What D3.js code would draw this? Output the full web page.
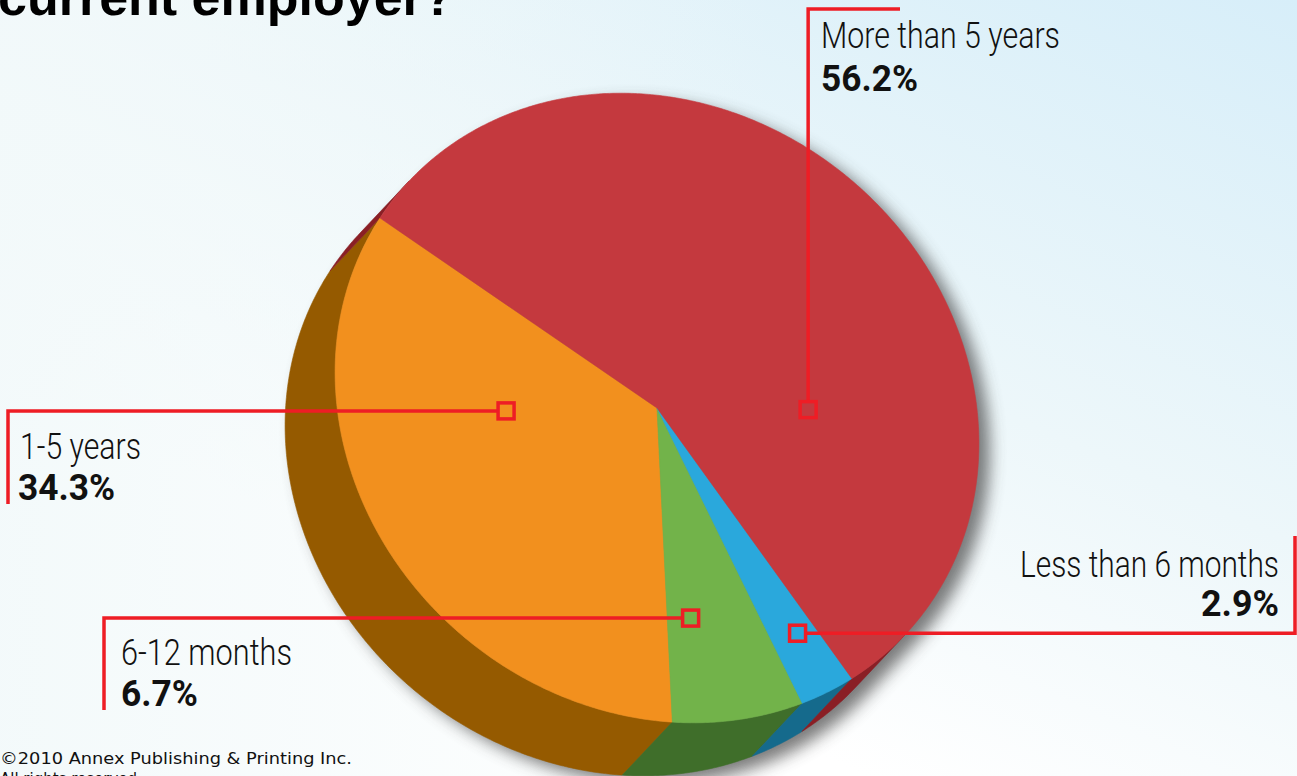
<!DOCTYPE html>
<html><head><meta charset="utf-8">
<script src="https://cdn.jsdelivr.net/npm/d3@7/dist/d3.min.js"></script>
<style>html,body{margin:0;padding:0;overflow:hidden;background:#fff}</style>
</head><body>
<svg id="chart" width="1297" height="776"></svg>
<script>
// ---------- data ----------
const categories = ["1-5 years", "6-12 months", "Less than 6 months", "More than 5 years"];
const values = [34.3, 6.7, 2.9, 56.2];
const valueLabels = ["34.3%", "6.7%", "2.9%", "56.2%"];
const titleText = "current employer?";
const copyrightLines = ["\u00A92010 Annex Publishing & Printing Inc.", "All rights reserved."];

// ---------- styles / layout ----------
const topColors = ["#F2901E", "#72B34A", "#2AA8DC", "#C4393E"];
const sideColors = ["#955A00", "#3F6E2A", "#156A8C", "#8A1F25"];
const lineColor = "#EE1D25";
// marker position inside each slice: fraction of slice angle, radius fraction
const markerPos = [[0.31, 0.473], [0.26, 0.668], [0.60, 0.80], [0.29, 0.472]];
// leader routing
const leaders = [
  {dir: "h", elbow: 8, end: 504},
  {dir: "h", elbow: 104, end: 710},
  {dir: "h", elbow: 1295, end: 536},
  {dir: "v", elbow: 9, end: 900}
];
const labelPos = [
  {x: 20, y: 459, anchor: "start", w: 121, vx: 18, vy: 500, vw: 97},
  {x: 121, y: 665, anchor: "start", w: 171, vx: 121, vy: 706, vw: 77},
  {x: 1279, y: 577, anchor: "end", w: 259, vx: 1279, vy: 616, vw: 78},
  {x: 821, y: 48, anchor: "start", w: 239, vx: 821, vy: 91, vw: 97}
];

// ---------- projection of the tilted disc ----------
const C = [657, 408];        // centre of top face
const A = [-277, -190];      // image of unit x axis
const B = [-164, 251];       // image of unit y axis
const D = [-50, 53];         // extrusion (thickness) direction
function proj(t, r = 1, off = [0, 0]) {
  return [C[0] + r * (A[0] * Math.cos(t) + B[0] * Math.sin(t)) + off[0],
          C[1] + r * (A[1] * Math.cos(t) + B[1] * Math.sin(t)) + off[1]];
}
const det = A[0] * B[1] - B[0] * A[1];
const dU = (B[1] * D[0] - B[0] * D[1]) / det;
const dV = (-A[1] * D[0] + A[0] * D[1]) / det;
const phi = Math.atan2(dV, dU);
const front = [phi - Math.PI / 2, phi + Math.PI / 2];

const svg = d3.select("#chart");
const defs = svg.append("defs");
const bg = defs.append("linearGradient").attr("id", "bg")
  .attr("x1", 1).attr("y1", 0).attr("x2", 0.25).attr("y2", 1);
bg.append("stop").attr("offset", 0).attr("stop-color", "#D7EEF9");
bg.append("stop").attr("offset", 0.45).attr("stop-color", "#EDF7FA");
bg.append("stop").attr("offset", 0.8).attr("stop-color", "#FFFFFF");
const bl = defs.append("linearGradient").attr("id", "bgl")
  .attr("x1", 0).attr("y1", 0).attr("x2", 0.6).attr("y2", 0);
bl.append("stop").attr("offset", 0).attr("stop-color", "#F2F9FA").attr("stop-opacity", 0.9);
bl.append("stop").attr("offset", 1).attr("stop-color", "#F2F9FA").attr("stop-opacity", 0);
defs.append("filter").attr("id", "blur").attr("x", "-20%").attr("y", "-20%")
  .attr("width", "140%").attr("height", "140%")
  .append("feGaussianBlur").attr("stdDeviation", 8);

svg.append("rect").attr("width", 1297).attr("height", 776).attr("fill", "url(#bg)");
svg.append("rect").attr("width", 1297).attr("height", 776).attr("fill", "url(#bgl)");

const arcs = d3.pie().sort(null).value(d => d)(values);
const line = d3.line();
const STEP = Math.PI / 360;
function arcPts(a0, a1, r = 1, off = [0, 0]) {
  const n = Math.max(2, Math.ceil((a1 - a0) / STEP));
  return d3.range(n + 1).map(i => proj(a0 + (a1 - a0) * i / n, r, off));
}

// shadow silhouette
const sil = [];
d3.range(0, 720).forEach(i => {
  const t = front[0] + i * Math.PI / 360;
  const inFront = t <= front[1];
  sil.push(proj(t, 1, inFront ? D : [0, 0]));
});
svg.append("path").attr("d", line(sil) + "Z")
  .attr("transform", "translate(11,8)")
  .attr("fill", "#444").attr("opacity", 0.7).attr("filter", "url(#blur)");

// side walls
const gSide = svg.append("g");
arcs.forEach((a, i) => {
  [-1, 0, 1].forEach(k => {
    const lo = Math.max(a.startAngle, front[0] + 2 * Math.PI * k);
    const hi = Math.min(a.endAngle, front[1] + 2 * Math.PI * k);
    if (hi > lo) {
      const top = arcPts(lo, hi);
      const bot = arcPts(lo, hi, 1, D).reverse();
      gSide.append("path").attr("d", line(top.concat(bot)) + "Z")
        .attr("fill", sideColors[i]).attr("stroke", sideColors[i]).attr("stroke-width", 0.6);
    }
  });
});

// top face
const gTop = svg.append("g");
arcs.forEach((a, i) => {
  const pts = [C].concat(arcPts(a.startAngle, a.endAngle));
  gTop.append("path").attr("d", line(pts) + "Z")
    .attr("fill", topColors[i]).attr("stroke", topColors[i]).attr("stroke-width", 0.6);
});

// leaders + markers
const MS = 16;
const gL = svg.append("g");
arcs.forEach((a, i) => {
  const t = a.startAngle + (a.endAngle - a.startAngle) * markerPos[i][0];
  const m = proj(t, markerPos[i][1]);
  const L = leaders[i];
  let pts;
  if (L.dir === "h") {
    const sx = L.elbow < m[0] ? m[0] - MS / 2 : m[0] + MS / 2;
    pts = [[sx, m[1]], [L.elbow, m[1]], [L.elbow, L.end]];
  } else {
    pts = [[m[0], m[1] - MS / 2], [m[0], L.elbow], [L.end, L.elbow]];
  }
  gL.append("path").attr("d", line(pts)).attr("fill", "none")
    .attr("stroke", lineColor).attr("stroke-width", 3.5).attr("stroke-linejoin", "miter");
  gL.append("rect").attr("x", m[0] - MS / 2).attr("y", m[1] - MS / 2)
    .attr("width", MS).attr("height", MS).attr("fill", "none")
    .attr("stroke", lineColor).attr("stroke-width", 3.5);
});

// labels
const gT = svg.append("g");
categories.forEach((c, i) => {
  const p = labelPos[i];
  gT.append("text").attr("x", p.x).attr("y", p.y).attr("text-anchor", p.anchor)
    .attr("font-family", "Roboto, 'Liberation Sans Narrow', sans-serif").attr("font-weight", 300)
    .attr("font-size", 36).attr("fill", "#111")
    .attr("textLength", p.w).attr("lengthAdjust", "spacingAndGlyphs").text(c);
  gT.append("text").attr("x", p.vx).attr("y", p.vy).attr("text-anchor", p.anchor)
    .attr("font-family", "Roboto, 'Liberation Sans', sans-serif").attr("font-weight", 700)
    .attr("font-size", 36).attr("fill", "#111")
    .attr("textLength", p.vw).attr("lengthAdjust", "spacingAndGlyphs").text(valueLabels[i]);
});

// title (cut off at top, as in the original)
svg.append("text").attr("x", -2).attr("y", 15)
  .attr("font-family", "'Liberation Sans', Arial, sans-serif").attr("font-weight", 700)
  .attr("font-size", 52).attr("fill", "#000").text(titleText);

// copyright
copyrightLines.forEach((s, i) => {
  const t = svg.append("text").attr("x", 0).attr("y", 764 + i * 20)
    .attr("font-family", "'DejaVu Sans', sans-serif").attr("font-size", 15).attr("fill", "#111").text(s);
  if (i === 0) t.attr("textLength", 352).attr("lengthAdjust", "spacingAndGlyphs");
});
</script>
</body></html>
